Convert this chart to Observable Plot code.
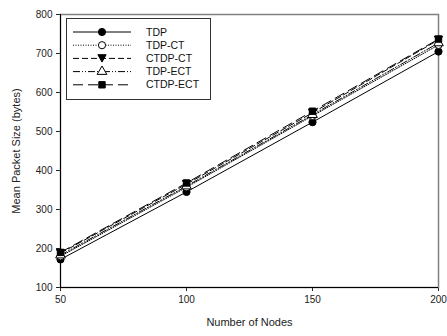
<!DOCTYPE html>
<html><head><meta charset="utf-8">
<script src="https://cdn.jsdelivr.net/npm/d3@7"></script>
<script src="https://cdn.jsdelivr.net/npm/@observablehq/plot@0.6"></script>
<style>
body{margin:0;background:#fff;font-family:"Liberation Sans",Arial,sans-serif;}
#wrap{position:relative;width:447px;height:336px;}
#legend{position:absolute;left:0;top:0;}
</style></head>
<body><div id="wrap"></div>
<script>
const nodes = [50, 100, 150, 200];
const seriesNames = ["TDP", "TDP-CT", "CTDP-CT", "TDP-ECT", "CTDP-ECT"];
const tdp = [172, 345, 524, 705];
const tdpCT = [180, 357, 540, 722];
const ctdpCT = [188, 365, 548, 735];
const tdpECT = [183, 360, 543, 727];
const ctdpECT = [190, 368, 552, 737];
const yTicks = [100, 200, 300, 400, 500, 600, 700, 800];
const xTicks = [50, 100, 150, 200];

const triDown = {draw(ctx, size){const s=Math.sqrt(size/0.6);const h=s*0.9;ctx.moveTo(-s/2,-h/2);ctx.lineTo(s/2,-h/2);ctx.lineTo(0,h/2);ctx.closePath();}};
const styles = {
  "TDP": {dash: null, symbol: "circle", fill: "black"},
  "TDP-CT": {dash: "1,1.5", symbol: "circle", fill: "white"},
  "CTDP-CT": {dash: "6,3", symbol: triDown, fill: "black"},
  "TDP-ECT": {dash: "7,2,1,2,1,2", symbol: "triangle", fill: "white"},
  "CTDP-ECT": {dash: "10,5", symbol: "square", fill: "black"}
};
const valuesBySeries = [tdp, tdpCT, ctdpCT, tdpECT, ctdpECT];
const data = seriesNames.map((name, i) => nodes.map((n, j) => ({series: name, x: n, y: valuesBySeries[i][j]})));

const marks = [
  Plot.frame({stroke: "#808080", strokeWidth: 1.5}),
  Plot.ruleX([50], {stroke: "black"}),
  Plot.ruleY([100], {stroke: "black"}),
];
data.forEach(d => {
  const st = styles[d[0].series];
  marks.push(Plot.line(d, {x: "x", y: "y", stroke: "black", strokeWidth: 1, strokeDasharray: st.dash}));
});
data.forEach(d => {
  const st = styles[d[0].series];
  marks.push(Plot.dot(d, {x: "x", y: "y", symbol: () => st.symbol, r: 3.6, fill: st.fill, stroke: "black", strokeWidth: 1}));
});

const chart = Plot.plot({
  width: 447, height: 336,
  marginLeft: 60, marginRight: 9, marginTop: 14, marginBottom: 49,
  style: {fontFamily: "Liberation Sans, Arial, sans-serif", fontSize: "10px", color: "#222", background: "white"},
  symbol: {type: "identity"},
  x: {domain: [50, 200], ticks: xTicks, tickSize: 4, tickPadding: 4, label: "Number of Nodes", labelAnchor: "center", labelOffset: 38, labelArrow: "none"},
  y: {domain: [100, 800], ticks: yTicks, tickSize: 4, tickPadding: 4, label: "Mean Packet Size (bytes)", labelAnchor: "center", labelOffset: 48, labelArrow: "none"},
  marks
});
document.getElementById("wrap").appendChild(chart);
chart.querySelectorAll('[aria-label="x-axis label"] text, [aria-label="y-axis label"] text').forEach(t => t.setAttribute("font-size", "11px"));

// legend
const lg = d3.select("#wrap").append("svg").attr("id", "legend").attr("width", 447).attr("height", 336);
lg.append("rect").attr("x", 66.5).attr("y", 18.5).attr("width", 144).attr("height", 81).attr("fill", "white").attr("stroke", "#333").attr("stroke-width", 1);
seriesNames.forEach((name, i) => {
  const st = styles[name];
  const yy = 32 + i * 13.2;
  lg.append("line").attr("x1", 73).attr("x2", 131).attr("y1", yy).attr("y2", yy).attr("stroke", "black").attr("stroke-dasharray", st.dash);
  const sym = typeof st.symbol === "string" ? ({circle: d3.symbolCircle, triangle: d3.symbolTriangle, square: d3.symbolSquare})[st.symbol] : st.symbol;
  lg.append("path").attr("d", d3.symbol(sym, 3.6*3.6*Math.PI)()).attr("transform", `translate(102,${yy})`).attr("fill", st.fill).attr("stroke", "black");
  lg.append("text").attr("x", 146).attr("y", yy).attr("dy", "0.35em").attr("font-size", "10.5px").attr("font-family", "Liberation Sans, Arial, sans-serif").attr("fill", "#111").text(name);
});
</script></body></html>
